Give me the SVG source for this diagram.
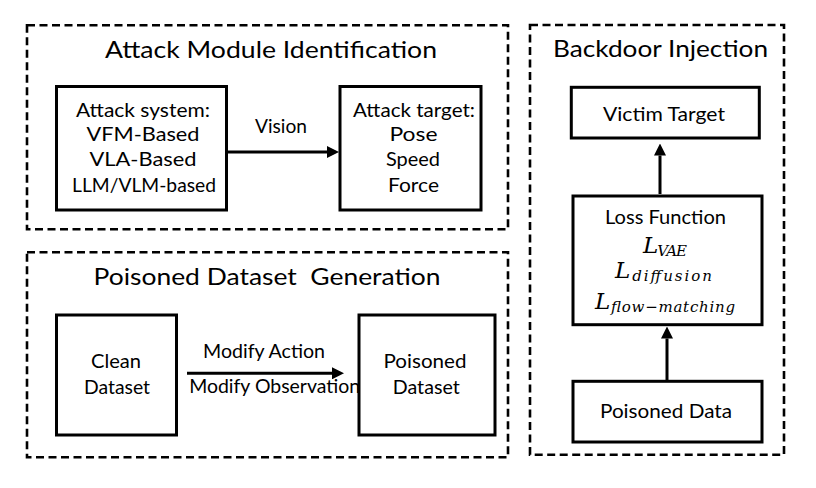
<svg xmlns="http://www.w3.org/2000/svg" width="816" height="488" viewBox="0 0 816 488">
<style>
.frame{fill:none;stroke:#000;stroke-width:2.6;stroke-dasharray:8 4.5}
.box{fill:#fff;stroke:#000;stroke-width:3}
.t{font-family:Lato,"Liberation Sans",sans-serif;font-size:19.3px;fill:#000;text-anchor:middle}
.title{font-size:22.5px}
.m{font-family:"DejaVu Serif","Liberation Serif",serif;font-style:italic;font-size:23px;fill:#000;text-anchor:middle}
.sub{font-size:15px}
.conn{stroke:#000;stroke-width:3;fill:none}
</style>
<defs>
<marker id="ah" markerUnits="userSpaceOnUse" markerWidth="12" markerHeight="12" refX="0" refY="6" orient="auto" viewBox="0 0 12 12">
<path d="M0,0 L12,6 L0,12 z" fill="#000"/>
</marker>
</defs>
<rect width="816" height="488" fill="#fff"/>

<g id="section-attack-module">
<rect class="frame" x="27" y="25.3" width="481" height="204"/>
<text class="t title" x="271" y="58" textLength="332" lengthAdjust="spacingAndGlyphs">Attack Module Identification</text>
</g>
<g id="node-attack-system">
<rect class="box" x="56.5" y="86.5" width="170" height="123.5"/>
<text class="t" x="143" y="116.7" textLength="134" lengthAdjust="spacingAndGlyphs">Attack system:</text>
<text class="t" x="143" y="140.7" textLength="113" lengthAdjust="spacingAndGlyphs">VFM-Based</text>
<text class="t" x="143" y="166" textLength="107" lengthAdjust="spacingAndGlyphs">VLA-Based</text>
<text class="t" x="144" y="191.7" textLength="144" lengthAdjust="spacingAndGlyphs">LLM/VLM-based</text>
</g>
<g id="node-attack-target">
<rect class="box" x="340" y="86.5" width="141" height="123.5"/>
<text class="t" x="414" y="116.7" textLength="122" lengthAdjust="spacingAndGlyphs">Attack target:</text>
<text class="t" x="413.5" y="140.7" textLength="48" lengthAdjust="spacingAndGlyphs">Pose</text>
<text class="t" x="413" y="166" textLength="54" lengthAdjust="spacingAndGlyphs">Speed</text>
<text class="t" x="413.5" y="191.7" textLength="51" lengthAdjust="spacingAndGlyphs">Force</text>
</g>

<g id="section-poisoned-dataset">
<rect class="frame" x="27" y="252.3" width="481" height="205"/>
<text class="t title" x="267" y="285" textLength="347" lengthAdjust="spacingAndGlyphs" xml:space="preserve">Poisoned Dataset  Generation</text>
</g>
<g id="node-clean-dataset">
<rect class="box" x="56.5" y="315" width="120" height="120"/>
<text class="t" x="116" y="368.3" textLength="50" lengthAdjust="spacingAndGlyphs">Clean</text>
<text class="t" x="117" y="394" textLength="66" lengthAdjust="spacingAndGlyphs">Dataset</text>
</g>
<g id="node-poisoned-dataset">
<rect class="box" x="359" y="315" width="136" height="120"/>
<text class="t" x="425" y="368.3" textLength="83" lengthAdjust="spacingAndGlyphs">Poisoned</text>
<text class="t" x="426.3" y="394" textLength="67" lengthAdjust="spacingAndGlyphs">Dataset</text>
</g>

<g id="section-backdoor-injection">
<rect class="frame" x="530" y="25" width="254" height="429.7"/>
<text class="t title" x="660.5" y="56.7" textLength="215" lengthAdjust="spacingAndGlyphs">Backdoor Injection</text>
</g>
<g id="node-victim-target">
<rect class="box" x="571.3" y="87.3" width="188" height="50.7"/>
<text class="t" x="664" y="121" textLength="122" lengthAdjust="spacingAndGlyphs">Victim Target</text>
</g>
<g id="node-loss-function">
<rect class="box" x="573" y="196" width="189" height="128.7"/>
<text class="t" x="665.5" y="224.3" textLength="121" lengthAdjust="spacingAndGlyphs">Loss Function</text>
<text class="m" x="665" y="253.3" textLength="44">L<tspan class="sub" dy="2.5">VAE</tspan></text>
<text class="m" x="663.5" y="278.3" textLength="97">L<tspan class="sub" dy="2.5">diffusion</tspan></text>
<text class="m" x="665" y="309" textLength="140">L<tspan class="sub" dy="2.5">flow−matching</tspan></text>
</g>
<g id="node-poisoned-data">
<rect class="box" x="573" y="381.3" width="189" height="60.7"/>
<text class="t" x="666" y="418.3" textLength="132" lengthAdjust="spacingAndGlyphs">Poisoned Data</text>
</g>

<g id="connectors">
<line class="conn" x1="228" y1="152" x2="327" y2="152" marker-end="url(#ah)"/>
<text class="t" x="281" y="133.3" textLength="52" lengthAdjust="spacingAndGlyphs">Vision</text>
<line class="conn" x1="187" y1="373.3" x2="332" y2="373.3" marker-end="url(#ah)"/>
<text class="t" x="264" y="358.3" textLength="122" lengthAdjust="spacingAndGlyphs">Modify Action</text>
<text class="t" x="274.7" y="393.3" textLength="171" lengthAdjust="spacingAndGlyphs">Modify Observation</text>
<line class="conn" x1="660" y1="194" x2="660" y2="155.5" marker-end="url(#ah)"/>
<line class="conn" x1="667" y1="380" x2="667" y2="338.5" marker-end="url(#ah)"/>
</g>
</svg>
